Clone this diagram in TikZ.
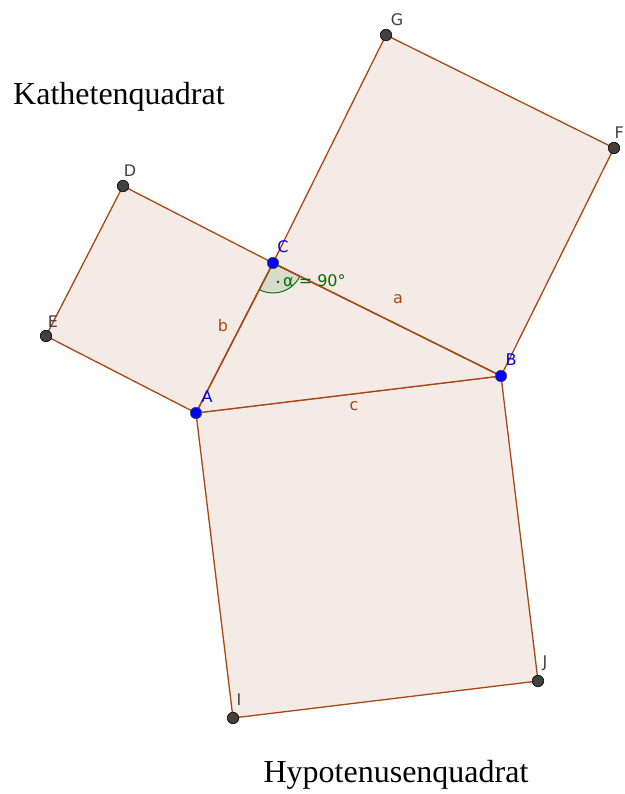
\documentclass[tikz,border=0pt]{standalone}
\usepackage{fontspec}
\setmainfont{Liberation Serif}
\newfontfamily\ggbfont{DejaVu Sans}
\usetikzlibrary{calc}
\definecolor{ggbrown}{RGB}{170,70,20}
\definecolor{ggfill}{RGB}{245,235,230}
\definecolor{gggreen}{RGB}{0,110,0}
\definecolor{ggblue}{RGB}{0,0,255}
\definecolor{gggray}{RGB}{64,64,64}
\tikzset{
  sq/.style={fill=ggfill, draw=ggbrown, line width=1.3pt, line join=round},
  freept/.style={circle, fill=ggblue, draw=black!70, line width=0.6pt, minimum size=11.5pt, inner sep=0pt},
  deppt/.style={circle, fill=gggray, draw=black, line width=0.6pt, minimum size=11.5pt, inner sep=0pt},
  ptlab/.style={font=\ggbfont\fontsize{16}{19}\selectfont, inner sep=0pt},
  seglab/.style={font=\ggbfont\fontsize{16}{19}\selectfont, text=ggbrown, inner sep=0pt},
  title/.style={font=\fontsize{32}{36}\selectfont, inner sep=0pt}
}
\begin{document}
\begin{tikzpicture}[x=1pt,y=1pt]
\useasboundingbox (0,0) rectangle (624,794);
\coordinate (A) at (196,381);
\coordinate (B) at (501,418);
\coordinate (C) at (273,531);
\coordinate (E) at ($(A)!1!90:(C)$);
\coordinate (D) at ($(C)!1!-90:(A)$);
\coordinate (G) at ($(C)!1!90:(B)$);
\coordinate (F) at ($(B)!1!-90:(C)$);
\coordinate (I) at ($(A)!1!-90:(B)$);
\coordinate (J) at ($(B)!1!90:(A)$);
% squares and triangle
\path[sq] (A) -- (C) -- (D) -- (E) -- cycle;
\path[sq] (C) -- (B) -- (F) -- (G) -- cycle;
\path[sq] (A) -- (B) -- (J) -- (I) -- cycle;
\path[sq] (A) -- (B) -- (C) -- cycle;
% angle sector
\filldraw[fill=gggreen, fill opacity=0.12, draw=gggreen, line width=0.9pt]
  (C) -- ++(333.6:30) arc[start angle=333.6, end angle=242.8, radius=30] -- cycle;
\draw[ggbrown, line width=1.3pt] (A) -- (C) -- (B);
\fill[gggreen] (278,512) circle (1.5);
\node[ptlab, text=gggreen, anchor=west] (alpha) at (283,513) {α = 90°};
% points
\node[freept] (pA) at (A) {};
\node[freept] (pB) at (B) {};
\node[freept] (pC) at (C) {};
\node[deppt] (pD) at (D) {};
\node[deppt] (pE) at (E) {};
\node[deppt] (pG) at (G) {};
\node[deppt] (pF) at (F) {};
\node[deppt] (pI) at (I) {};
\node[deppt] (pJ) at (J) {};
% point labels
\node[ptlab, text=ggblue] (lC) at (283,547) {C};
\node[ptlab, text=ggblue] (lA) at (207,397) {A};
\node[ptlab, text=ggblue] (lB) at (511,434) {B};
\node[ptlab, text=gggray] (lD) at (130,623) {D};
\node[ptlab, text=gggray] (lE) at (53,472) {E};
\node[ptlab, text=gggray] (lG) at (397,774) {G};
\node[ptlab, text=gggray, anchor=east] (lF) at (624,661) {F};
\node[ptlab, text=gggray] (lI) at (239,94) {I};
\node[ptlab, text=gggray] (lJ) at (545,131) {J};
% segment labels
\node[seglab] (la) at (398,495) {a};
\node[seglab] (lb) at (223,468) {b};
\node[seglab] (lc) at (354,388) {c};
% titles
\node[title, anchor=west] (t1) at (13,697) {Kathetenquadrat};
\node[title] (t2) at (396,19) {Hypotenusenquadrat};
\end{tikzpicture}
\end{document}
